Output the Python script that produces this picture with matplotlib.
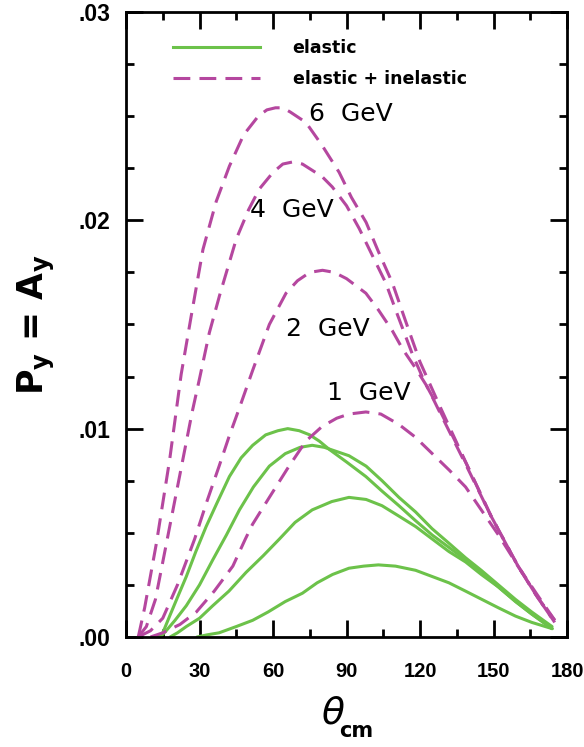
import numpy as np
import matplotlib.pyplot as plt
from matplotlib.ticker import MultipleLocator, FuncFormatter

# elastic + inelastic (dashed) curves
d6_x = [5, 7.6, 12.4, 17.8, 22.5, 26.6, 31.4, 36.8, 42.2, 48, 54, 57.5, 61, 64, 67, 73.4, 80, 87,
        92, 98, 103, 108.7, 114, 120, 128, 139, 149, 160, 168, 175]
d6_y = [0, 0.0014, 0.0045, 0.0085, 0.0126, 0.0154, 0.0186, 0.0209, 0.0226, 0.0241, 0.0250, 0.0253,
        0.0254, 0.0254, 0.0252, 0.0247, 0.0236, 0.0223, 0.0211, 0.0199, 0.0185, 0.0170, 0.0152,
        0.0132, 0.0111, 0.0083, 0.0058, 0.0034, 0.0019, 0.0008]

d4_x = [5, 8.3, 12, 16, 20, 24, 27, 30, 34, 38.2, 45, 50, 54.4, 60, 64, 68, 72, 76, 80, 84.2, 90,
        95.2, 101, 106, 111, 116.8, 122, 128, 139, 149, 160, 168, 175]
d4_y = [0, 0.0005, 0.0018, 0.0042, 0.0066, 0.0090, 0.0108, 0.0124, 0.0146, 0.0164, 0.0191, 0.0205,
        0.0215, 0.0223, 0.0227, 0.0228, 0.0227, 0.0224, 0.0221, 0.0216, 0.0207, 0.0196, 0.0182,
        0.0170, 0.0154, 0.0136, 0.0122, 0.0109, 0.0083, 0.0058, 0.0034, 0.0019, 0.0007]

d2_x = [5, 10, 15, 21, 28, 33, 38, 42, 46.3, 51.7, 58.5, 65.3, 70, 75, 80.2, 85, 90, 97.9, 103,
        108.7, 113, 118.2, 123, 128, 139, 149, 160, 168, 175]
d2_y = [0, 0.0003, 0.0009, 0.0025, 0.0047, 0.0065, 0.0082, 0.0096, 0.0110, 0.0128, 0.0150, 0.0165,
        0.0171, 0.0175, 0.0176, 0.0175, 0.0172, 0.0165, 0.0157, 0.0147, 0.0138, 0.0129, 0.0120,
        0.0108, 0.0082, 0.0058, 0.0034, 0.0019, 0.0007]

d1_x = [10, 15, 22, 28.7, 36, 43.6, 48.7, 51.6, 58.5, 66, 73.4, 80, 86, 91, 97.9, 104, 111.4,
        118, 125, 132, 138.6, 145, 152, 160, 168, 175]
d1_y = [0, 0.0002, 0.0006, 0.0012, 0.0022, 0.0034, 0.0047, 0.0054, 0.0067, 0.0081, 0.0094, 0.0101,
        0.0105, 0.0107, 0.0108, 0.0107, 0.0102, 0.0096, 0.0088, 0.0080, 0.0072, 0.0061, 0.0049,
        0.0034, 0.0020, 0.0008]

# elastic only (solid)
g1_x = [13, 15, 17.8, 21, 24.6, 28.5, 32.7, 37, 42.2, 47, 51.7, 57, 62, 66, 70.7, 75, 78.9, 83,
        90, 97.9, 104.5, 111.4, 118, 124.9, 131.8, 138.6, 145, 152, 159, 165.6, 173.9]
g1_y = [0, 0.0002, 0.0010, 0.0019, 0.0029, 0.0041, 0.0053, 0.0064, 0.0077, 0.0086, 0.0092, 0.0097,
        0.0099, 0.0100, 0.0099, 0.0097, 0.0094, 0.0090, 0.0084, 0.0077, 0.0070, 0.0063, 0.0056,
        0.0049, 0.0043, 0.0037, 0.0031, 0.0024, 0.0017, 0.0011, 0.0004]

g2_x = [14, 16.4, 20, 24.6, 30, 35.4, 41, 46.3, 52, 58.5, 65, 71, 76, 81, 86, 91, 98, 104.5,
        111.4, 118.2, 124.9, 131.8, 138.6, 145, 152, 159, 165.6, 173.9]
g2_y = [0, 0.0003, 0.0008, 0.0015, 0.0025, 0.0037, 0.0049, 0.0061, 0.0072, 0.0082, 0.0088, 0.0091,
        0.0092, 0.0091, 0.0089, 0.0087, 0.0082, 0.0075, 0.0067, 0.0060, 0.0052, 0.0045, 0.0038,
        0.0032, 0.0025, 0.0018, 0.0012, 0.0005]

g3_x = [18, 21, 24.6, 30, 35.4, 42, 49, 56, 62.6, 69, 76, 84, 91, 98, 104.5, 111.4, 118.2, 125,
        131.8, 138.6, 145, 152, 159, 165.6, 173.9]
g3_y = [0, 0.0002, 0.0005, 0.0009, 0.0015, 0.0022, 0.0031, 0.0039, 0.0047, 0.0055, 0.0061, 0.0065,
        0.0067, 0.0066, 0.0063, 0.0058, 0.0053, 0.0047, 0.0041, 0.0036, 0.0030, 0.0024, 0.0017,
        0.0011, 0.0004]

g4_x = [29, 33, 38, 45, 51.7, 58, 65, 72, 78, 84.3, 91, 97, 103, 110, 118.2, 125, 131.8, 138.6,
        145.3, 152, 159, 165.6, 173.9]
g4_y = [0, 0.0001, 0.0002, 0.0005, 0.0008, 0.0012, 0.0017, 0.0021, 0.0026, 0.0030, 0.0033, 0.0034,
        0.00346, 0.0034, 0.0032, 0.0029, 0.0026, 0.0022, 0.0018, 0.0014, 0.0010, 0.0007, 0.0004]

energy_labels = ['6  GeV', '4  GeV', '2  GeV', '1  GeV']
label_x = [74.8, 50.4, 65.3, 82.1]
label_y = [0.0251, 0.0205, 0.0148, 0.0117]

green = '#6cc24a'
magenta = '#b5479f'

plt.rcParams['font.family'] = ['DejaVu Sans']

fig = plt.figure(figsize=(5.84, 7.47), dpi=100)
ax = fig.add_axes([0.2158, 0.1473, 0.7551, 0.8367])

dash = (5.5, 3)
lw = 2.2
for xs, ys in [(g1_x, g1_y), (g2_x, g2_y), (g3_x, g3_y), (g4_x, g4_y)]:
    ax.plot(xs, ys, color=green, lw=lw, solid_capstyle='round', solid_joinstyle='round')
for xs, ys in [(d6_x, d6_y), (d4_x, d4_y), (d2_x, d2_y), (d1_x, d1_y)]:
    ax.plot(xs, ys, color=magenta, lw=lw, dashes=dash)

# legend handles
ax.plot([], [], color=green, lw=lw, label='elastic')
ax.plot([], [], color=magenta, lw=lw, dashes=dash, label='elastic + inelastic')
handles, labels = ax.get_legend_handles_labels()
ax.legend(handles, labels, loc='upper left', bbox_to_anchor=(0.106, 0.957), frameon=False,
          borderpad=0, borderaxespad=0, handlelength=5.0, handletextpad=1.9,
          labelspacing=0.75, prop={'weight': 'bold', 'size': 12.5})

for txt, lx, ly in zip(energy_labels, label_x, label_y):
    ax.text(lx, ly, txt, fontsize=18, ha='left', va='center')

ax.set_xlim(0, 180)
ax.set_ylim(0, 0.03)
ax.xaxis.set_major_locator(MultipleLocator(30))
ax.xaxis.set_minor_locator(MultipleLocator(15))
ax.yaxis.set_major_locator(MultipleLocator(0.01))
ax.yaxis.set_minor_locator(MultipleLocator(0.0025))
ax.yaxis.set_major_formatter(FuncFormatter(lambda v, p: f'{v:.2f}'.lstrip('0')))

ax.tick_params(which='both', direction='in', top=True, right=True, width=2)
ax.tick_params(which='major', length=12)
ax.tick_params(which='minor', length=6)
ax.tick_params(axis='x', which='major', pad=18)
ax.tick_params(axis='y', which='major', pad=11)
for lab in ax.get_xticklabels():
    lab.set_fontweight('bold')
    lab.set_fontfamily('Liberation Sans')
    lab.set_fontsize(14.5)
for lab in ax.get_yticklabels():
    lab.set_fontweight('bold')
    lab.set_fontfamily('Liberation Sans')
    lab.set_fontsize(16.5)
for sp in ax.spines.values():
    sp.set_linewidth(2)

ax.text(-0.203, 0.5, r'P$_\mathbf{y}$ = A$_\mathbf{y}$', transform=ax.transAxes,
        rotation=90, ha='center', va='center', fontsize=25, fontweight='bold')
ax.text(0.469, -0.122, r'$\theta$', transform=ax.transAxes, ha='center', va='center',
        fontsize=27)
ax.text(0.521, -0.150, 'cm', transform=ax.transAxes, ha='center', va='center',
        fontsize=15, fontweight='bold')

fig.savefig('out.png', dpi=100)
